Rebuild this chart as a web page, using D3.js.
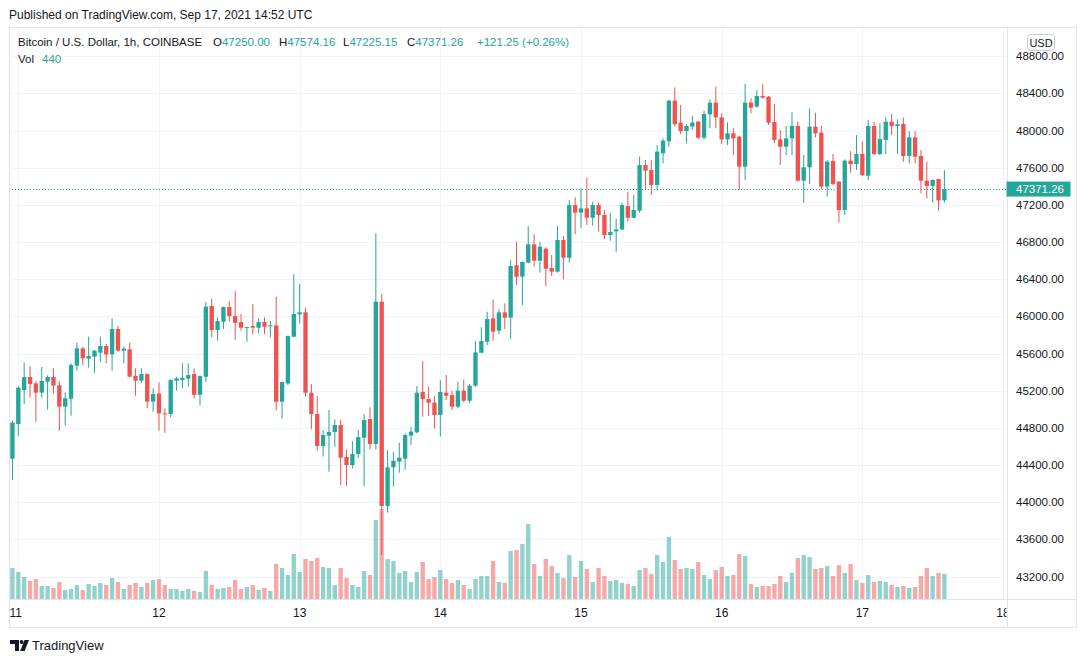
<!DOCTYPE html>
<html>
<head>
<meta charset="utf-8">
<script src="https://cdn.jsdelivr.net/npm/d3@7"></script>
<style>
  html, body { margin: 0; padding: 0; background: #fff; }
  svg { display: block; font-family: "Liberation Sans", Arial, sans-serif; }
</style>
</head>
<body>
<svg id="chart" width="1086" height="662"></svg>
<script>
// BTC/USD 1h candles, Coinbase, Sep 10 23:00 UTC -> Sep 17 14:00 UTC
const firstBar = Date.UTC(2021, 8, 10, 23);

const open = [
  44469, 44842, 45208, 45348, 45280, 45180, 45298, 45348, 45259, 45029,
  45115, 45470, 45657, 45546, 45567, 45610, 45682, 45592, 45865, 45632,
  45646, 45359, 45309, 45380, 45083, 45172, 44957, 44950, 45308, 45315,
  45330, 45380, 45157, 45351, 46112, 45854, 45943, 46101, 46004, 45939,
  45879, 45897, 45879, 45940, 45893, 45904, 45082, 45279, 45782, 46022,
  46044, 45179, 44949, 44605, 44717, 44756, 44831, 44487, 44401, 44519,
  44695, 44896, 44627, 46159, 43960, 44376, 44437, 44469, 44717, 44753,
  45187, 45111, 45072, 44939, 45179, 45154, 45029, 45201, 45093, 45255,
  45610, 45728, 45979, 45847, 46044, 45987, 46550, 46428, 46579, 46776,
  46600, 46729, 46521, 46482, 46823, 46632, 47199, 47117, 47163, 47063,
  47199, 47092, 46876, 46916, 46937, 47188, 47063, 47139, 47630, 47576,
  47415, 47756, 47885, 48323, 48086, 47996, 48043, 48097, 47924, 48175,
  48301, 48143, 47906, 47971, 47935, 47612, 48301, 48258, 48373, 48366,
  48093, 47906, 47827, 47917, 48050, 47461, 47605, 48043, 47978, 47397,
  47673, 47451, 47146, 47677, 47641, 47748, 47515, 48050, 47748, 47899,
  48096, 48050, 48072, 47727, 47928, 47727, 47461, 47404, 47479, 47250.00
];
const high = [
  44878, 45251, 45502, 45467, 45305, 45456, 45366, 45441, 45305, 45183,
  45495, 45718, 45675, 45782, 45639, 45782, 45703, 45980, 45897, 45675,
  45718, 45441, 45441, 45385, 45226, 45291, 45010, 45326, 45351, 45495,
  45495, 45441, 45365, 46155, 46194, 45990, 46108, 46166, 46273, 46026,
  45890, 46133, 45979, 45990, 45954, 46212, 45300, 45795, 46456, 46349,
  46094, 45272, 45143, 44778, 44993, 44892, 44892, 44569, 44659, 44778,
  44950, 45022, 46894, 46241, 44562, 44544, 44641, 44742, 44813, 45251,
  45520, 45244, 45144, 45316, 45370, 45201, 45298, 45323, 45273, 45735,
  45883, 46051, 46184, 46076, 46141, 46607, 46805, 46590, 46973, 46884,
  46805, 46744, 46661, 46973, 46866, 47253, 47282, 47379, 47494, 47235,
  47224, 47146, 47117, 47052, 47224, 47343, 47307, 47720, 47684, 47684,
  47845, 47917, 48330, 48466, 48276, 48068, 48157, 48104, 48215, 48337,
  48473, 48186, 48089, 48025, 47940, 48502, 48348, 48437, 48502, 48373,
  48287, 48007, 48050, 48197, 48096, 47738, 48240, 48193, 48050, 47684,
  47748, 47455, 47691, 47781, 47953, 47888, 48114, 48093, 48079, 48143,
  48179, 48122, 48143, 47996, 47996, 47792, 47666, 47476, 47482, 47574.16
];
const low = [
  44239, 44713, 45058, 45126, 44867, 45126, 44997, 45169, 44771, 44824,
  44932, 45416, 45477, 45449, 45395, 45513, 45495, 45416, 45621, 45495,
  45345, 45147, 45280, 45011, 44975, 44771, 44748, 44913, 45201, 45226,
  45244, 45118, 45046, 45297, 45775, 45739, 45864, 45943, 45746, 45846,
  45728, 45810, 45818, 45810, 45775, 44992, 44899, 45262, 45775, 45925,
  45136, 44788, 44555, 44491, 44329, 44598, 44186, 44178, 44365, 44473,
  44175, 44569, 44569, 43430, 43888, 44168, 44318, 44347, 44616, 44742,
  44921, 44928, 44795, 44706, 45101, 44993, 45011, 45075, 45065, 45244,
  45603, 45692, 45739, 45811, 45865, 45757, 46338, 46123, 46572, 46536,
  46471, 46327, 46435, 46471, 46399, 46579, 46887, 46955, 46984, 46977,
  46912, 46833, 46815, 46697, 46930, 47020, 47056, 47117, 47368, 47307,
  47354, 47648, 47827, 48043, 47964, 47863, 48007, 47910, 47906, 48025,
  48025, 47856, 47845, 47738, 47361, 47469, 48186, 48247, 48345, 48061,
  47863, 47630, 47738, 47738, 47451, 47225, 47426, 47928, 47368, 47289,
  47415, 47009, 47092, 47548, 47576, 47512, 47469, 47738, 47738, 47748,
  47953, 47748, 47666, 47648, 47648, 47325, 47271, 47225, 47139, 47225.15
];
const close = [
  44857, 45233, 45348, 45273, 45180, 45305, 45348, 45255, 45029, 45119,
  45477, 45657, 45549, 45574, 45632, 45682, 45592, 45865, 45632, 45653,
  45352, 45309, 45380, 45083, 45165, 44957, 44950, 45315, 45333, 45340,
  45369, 45157, 45358, 46105, 45854, 45950, 46101, 46004, 45932, 45879,
  45886, 45879, 45940, 45889, 45904, 45082, 45294, 45789, 46026, 46044,
  45179, 44949, 44605, 44724, 44756, 44831, 44480, 44401, 44519, 44702,
  44885, 44627, 46159, 43960, 44376, 44447, 44480, 44724, 44760, 45179,
  45111, 45072, 44939, 45187, 45147, 45029, 45201, 45093, 45255, 45613,
  45735, 45972, 45836, 46044, 45987, 46543, 46428, 46586, 46776, 46600,
  46751, 46514, 46482, 46823, 46632, 47199, 47117, 47163, 47063, 47199,
  47092, 46876, 46909, 46937, 47199, 47063, 47146, 47630, 47569, 47415,
  47774, 47892, 48323, 48068, 47996, 48050, 48086, 47924, 48179, 48301,
  48143, 47906, 47971, 47917, 47612, 48301, 48247, 48373, 48355, 48086,
  47899, 47827, 47917, 48050, 47461, 47605, 48043, 47971, 47397, 47666,
  47426, 47146, 47677, 47641, 47748, 47522, 48050, 47748, 47910, 48096,
  48050, 48068, 47727, 47928, 47720, 47461, 47404, 47469, 47250.01, 47371.26
];
const volume = [
  546, 475, 387, 317, 352, 229, 229, 194, 299, 158,
  176, 246, 158, 264, 229, 282, 246, 370, 299, 176,
  246, 282, 211, 282, 334, 352, 246, 176, 176, 141,
  176, 141, 123, 493, 246, 176, 194, 211, 334, 176,
  211, 246, 158, 194, 141, 616, 546, 422, 792, 475,
  704, 669, 722, 563, 546, 246, 546, 370, 246, 211,
  493, 422, 1390, 1584, 704, 669, 458, 493, 299, 475,
  651, 352, 387, 510, 352, 282, 334, 246, 176, 352,
  405, 405, 669, 299, 282, 845, 862, 968, 1320, 616,
  405, 704, 581, 458, 370, 774, 387, 669, 528, 299,
  546, 405, 317, 334, 282, 264, 229, 510, 546, 440,
  774, 651, 1091, 686, 528, 546, 528, 651, 422, 352,
  510, 563, 405, 422, 792, 757, 264, 211, 229, 229,
  264, 405, 299, 458, 722, 774, 739, 528, 546, 581,
  405, 598, 458, 616, 334, 282, 422, 299, 317, 299,
  246, 211, 229, 194, 211, 405, 546, 405, 458, 440
];

const priceTicks = [43200, 43600, 44000, 44400, 44800, 45200, 45600, 46000,
                    46400, 46800, 47200, 47600, 48000, 48400, 48800];
const dayLabels = ["11", "12", "13", "14", "15", "16", "17", "18"];
const lastPrice = 47371.26;

const up = "#26a69a", down = "#ef5350";
const gridColor = "#f0f3fa", borderColor = "#e0e3eb", textColor = "#131722";

const bars = open.map((o, i) => ({
  t: d3.utcHour.offset(new Date(firstBar), i),
  o, h: high[i], l: low[i], c: close[i], v: volume[i]
}));
const days = dayLabels.map(d => new Date(Date.UTC(2021, 8, +d)));

const frame = { left: 9, top: 27, right: 1076, bottom: 627 };
const plotRight = 1006.5, plotBottom = 599;

const x = d3.scaleUtc()
  .domain([days[0], days[days.length - 1]])
  .range([18.3, 1003]);
const y = d3.scaleLinear()
  .domain([43200, 48800])
  .range([576.6, 56.3]);
const yVol = d3.scaleLinear()
  .domain([0, d3.max(volume)])
  .range([plotBottom, 509]);

const svg = d3.select("#chart");
const crisp = v => Math.round(v) + 0.5;

svg.append("defs").append("clipPath").attr("id", "plot")
  .append("rect")
  .attr("x", frame.left).attr("y", frame.top)
  .attr("width", plotRight - frame.left).attr("height", plotBottom - frame.top);

// header
svg.append("text")
  .attr("x", 9).attr("y", 19)
  .attr("font-size", 12).attr("fill", textColor)
  .text("Published on TradingView.com, Sep 17, 2021 14:52 UTC");

// grid
const grid = svg.append("g");
grid.selectAll("line.h").data(priceTicks).enter().append("line")
  .attr("x1", frame.left).attr("x2", plotRight)
  .attr("y1", d => crisp(y(d))).attr("y2", d => crisp(y(d)))
  .attr("stroke", gridColor);
grid.selectAll("line.v").data(days).enter().append("line")
  .attr("x1", d => crisp(x(d))).attr("x2", d => crisp(x(d)))
  .attr("y1", frame.top).attr("y2", plotBottom)
  .attr("stroke", gridColor);

const plot = svg.append("g").attr("clip-path", "url(#plot)");
const step = x(d3.utcHour.offset(days[0], 1)) - x(days[0]);
const bodyW = step * 0.74;

// volume
plot.append("g").selectAll("rect").data(bars).enter().append("rect")
  .attr("x", d => x(d.t) - bodyW / 2)
  .attr("width", bodyW)
  .attr("y", d => yVol(d.v))
  .attr("height", d => yVol(0) - yVol(d.v))
  .attr("fill", d => d.c >= d.o ? up : down)
  .attr("fill-opacity", 0.5);

// candles
const candles = plot.append("g").selectAll("g").data(bars).enter().append("g")
  .attr("fill", d => d.c >= d.o ? up : down);
candles.append("rect")
  .attr("x", d => x(d.t) - 0.5)
  .attr("width", 1)
  .attr("y", d => y(d.h))
  .attr("height", d => y(d.l) - y(d.h));
candles.append("rect")
  .attr("x", d => x(d.t) - bodyW / 2)
  .attr("width", bodyW)
  .attr("y", d => y(Math.max(d.o, d.c)))
  .attr("height", d => Math.max(1, Math.abs(y(d.o) - y(d.c))));

// last price line
plot.append("line")
  .attr("x1", frame.left).attr("x2", plotRight)
  .attr("y1", crisp(y(lastPrice))).attr("y2", crisp(y(lastPrice)))
  .attr("stroke", up).attr("stroke-dasharray", "1,2");

// frame and axis separators
svg.append("rect")
  .attr("x", frame.left + 0.5).attr("y", frame.top + 0.5)
  .attr("width", frame.right - frame.left).attr("height", frame.bottom - frame.top)
  .attr("fill", "none").attr("stroke", borderColor);
svg.append("line")
  .attr("x1", crisp(plotRight)).attr("x2", crisp(plotRight))
  .attr("y1", frame.top).attr("y2", frame.bottom)
  .attr("stroke", borderColor);
svg.append("line")
  .attr("x1", frame.left).attr("x2", frame.right)
  .attr("y1", crisp(plotBottom)).attr("y2", crisp(plotBottom))
  .attr("stroke", borderColor);

// price axis
svg.append("g").selectAll("text").data(priceTicks).enter().append("text")
  .attr("x", 1016).attr("y", d => y(d) + 4)
  .attr("font-size", 11.5).attr("fill", textColor)
  .text(d => d3.format(".2f")(d));

const badge = svg.append("g");
badge.append("rect")
  .attr("x", 1027.5).attr("y", 34.5).attr("width", 27).attr("height", 16).attr("rx", 3)
  .attr("fill", "#fff").attr("stroke", "#c9ccd4");
badge.append("text")
  .attr("x", 1041).attr("y", 46.5).attr("text-anchor", "middle")
  .attr("font-size", 11).attr("fill", textColor).text("USD");

const lastLbl = svg.append("g");
lastLbl.append("rect")
  .attr("x", plotRight).attr("y", y(lastPrice) - 7.5)
  .attr("width", 64).attr("height", 15).attr("fill", up);
lastLbl.append("text")
  .attr("x", 1016).attr("y", y(lastPrice) + 4)
  .attr("font-size", 11.5).attr("fill", "#fff")
  .text(d3.format(".2f")(lastPrice));

// time axis
svg.append("defs").append("clipPath").attr("id", "taxis")
  .append("rect").attr("x", frame.left).attr("y", plotBottom)
  .attr("width", plotRight - frame.left).attr("height", frame.bottom - plotBottom);
svg.append("g").attr("clip-path", "url(#taxis)")
  .selectAll("text").data(days).enter().append("text")
  .attr("x", (d, i) => i === 0 ? x(d) - 2.5 : x(d))
  .attr("y", 617)
  .attr("text-anchor", "middle")
  .attr("font-size", 12).attr("fill", textColor)
  .text((d, i) => dayLabels[i]);

// legend
const last = bars[bars.length - 1];
const prevClose = bars[bars.length - 2].c;
const chg = last.c - prevClose;
const legend = svg.append("g").attr("font-size", 11.5).attr("fill", textColor);
legend.append("text").attr("x", 18).attr("y", 46).text("Bitcoin / U.S. Dollar, 1h, COINBASE");
const ohlc = [["O", last.o, 213], ["H", last.h, 279], ["L", last.l, 343], ["C", last.c, 407]];
ohlc.forEach(([k, val, px]) => {
  const t = legend.append("text").attr("x", px).attr("y", 46);
  t.append("tspan").text(k);
  t.append("tspan").attr("fill", up).text(d3.format(".2f")(val));
});
legend.append("text").attr("x", 477).attr("y", 46).attr("fill", up)
  .text(`+${d3.format(".2f")(chg)} (+${d3.format(".2f")(chg / prevClose * 100)}%)`);
legend.append("text").attr("x", 18).attr("y", 63).text("Vol");
legend.append("text").attr("x", 42).attr("y", 63).attr("fill", up).text(last.v);

// footer logo
const logo = svg.append("g").attr("fill", textColor);
logo.append("path").attr("d", "M10 640 H19 V651 H15 V644 H10 Z");
logo.append("circle").attr("cx", 21.6).attr("cy", 642).attr("r", 1.9);
logo.append("path").attr("d", "M24.5 640 H29 L24.6 651 H20.2 Z");
svg.append("text")
  .attr("x", 32).attr("y", 650)
  .attr("font-size", 13).attr("fill", textColor)
  .text("TradingView");
</script>
</body>
</html>
